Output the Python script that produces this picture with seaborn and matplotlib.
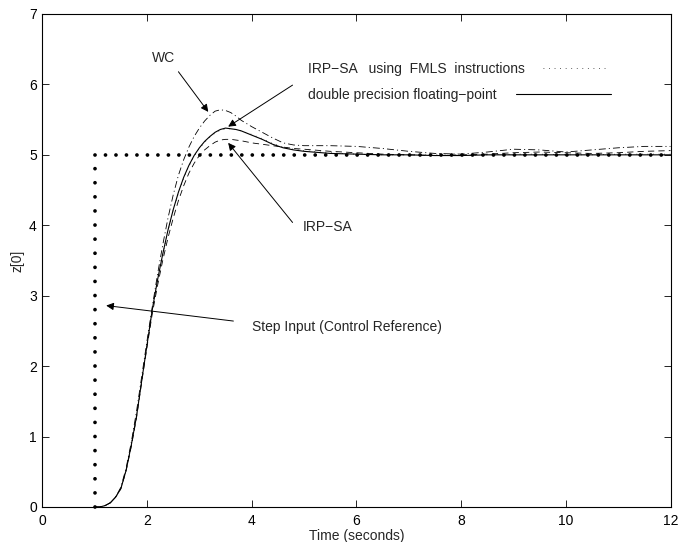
import numpy as np
import pandas as pd
import seaborn as sns
import matplotlib.pyplot as plt

# time samples (s)
t = [1.0, 1.1, 1.2, 1.3, 1.4, 1.5, 1.6, 1.7, 1.8, 1.9, 2.0, 2.1, 2.2, 2.3,
     2.4, 2.5, 2.6, 2.7, 2.8, 2.9, 3.0, 3.1, 3.2, 3.3, 3.4, 3.5, 3.6, 3.7, 3.8,
     4.0, 4.2, 4.4, 4.6, 4.8, 5.0, 5.5, 6.0, 6.5, 7.0, 7.5, 8.0, 8.5, 9.0, 9.5,
     10.0, 10.5, 11.0, 11.5, 12.0]

# double precision floating-point
z_double = [0.0, 0.0, 0.02, 0.06, 0.14, 0.26, 0.52, 0.88, 1.29, 1.8, 2.3, 2.8,
            3.22, 3.59, 3.93, 4.22, 4.47, 4.68, 4.85, 4.99, 5.1, 5.19, 5.26, 5.32,
            5.36, 5.38, 5.37, 5.36, 5.34, 5.28, 5.22, 5.15, 5.1, 5.07, 5.05, 5.02,
            5.01, 5.0, 5.0, 4.99, 4.99, 5.0, 5.0, 5.0, 5.0, 5.0, 5.0, 5.0, 5.0]

# IRP-SA using FMLS instructions
z_fmls = [0.0, 0.0, 0.02, 0.06, 0.14, 0.26, 0.52, 0.88, 1.29, 1.8, 2.3, 2.79,
          3.21, 3.58, 3.92, 4.21, 4.46, 4.67, 4.84, 4.98, 5.09, 5.18, 5.25, 5.31,
          5.35, 5.37, 5.37, 5.36, 5.34, 5.29, 5.23, 5.16, 5.11, 5.08, 5.06, 5.03,
          5.01, 5.0, 5.0, 5.0, 4.99, 5.0, 5.01, 5.01, 5.0, 5.0, 5.01, 5.01, 5.01]

# IRP-SA
z_irpsa = [0.0, 0.0, 0.02, 0.06, 0.14, 0.26, 0.51, 0.86, 1.27, 1.78, 2.27, 2.74,
           3.14, 3.5, 3.82, 4.1, 4.35, 4.56, 4.74, 4.88, 4.99, 5.07, 5.13, 5.18,
           5.21, 5.22, 5.22, 5.21, 5.2, 5.17, 5.15, 5.13, 5.11, 5.09, 5.08, 5.05,
           5.03, 5.01, 5.0, 4.99, 5.0, 5.01, 5.03, 5.04, 5.03, 5.02, 5.03, 5.05, 5.06]

# WC
z_wc = [0.0, 0.0, 0.02, 0.06, 0.14, 0.28, 0.55, 0.92, 1.36, 1.86, 2.36, 2.84,
        3.3, 3.72, 4.1, 4.43, 4.71, 4.93, 5.11, 5.26, 5.38, 5.48, 5.56, 5.62,
        5.64, 5.63, 5.6, 5.55, 5.49, 5.4, 5.32, 5.24, 5.17, 5.14, 5.13, 5.13,
        5.12, 5.09, 5.05, 5.02, 5.01, 5.04, 5.08, 5.07, 5.04, 5.07, 5.1, 5.12, 5.12]

# step input (control reference)
step_t = [1.0, 1.0, 12.0]
step_z = [0.0, 5.0, 5.0]

sns.set_style('ticks', {'xtick.direction': 'in', 'ytick.direction': 'in'})
plt.rcParams['font.family'] = ['Liberation Sans', 'DejaVu Sans']
plt.rcParams['lines.scale_dashes'] = False
plt.rcParams['font.size'] = 10

fig = plt.figure(figsize=(6.88, 5.42), dpi=100)
ax = fig.add_axes([0.0615, 0.0646, 0.9131, 0.9096])

# step drawn as big dots, vertical and horizontal parts have different spacing
sns.lineplot(x=step_t[:2], y=step_z[:2], ax=ax, color='k', lw=2.7,
             linestyle=(0, (0.01, 10.14)), dash_capstyle='round',
             sort=False, estimator=None, clip_on=False)
sns.lineplot(x=step_t[1:], y=step_z[1:], ax=ax, color='k', lw=2.7,
             linestyle=(0, (0.01, 7.54)), dash_capstyle='round',
             sort=False, estimator=None)

sns.lineplot(x=t, y=z_wc, ax=ax, color='k', lw=0.6,
             linestyle=(0, (5, 2.2, 0.8, 2.2)), sort=False, estimator=None)
sns.lineplot(x=t, y=z_irpsa, ax=ax, color='k', lw=0.6,
             linestyle=(0, (4.5, 3)), sort=False, estimator=None)
sns.lineplot(x=t, y=z_fmls, ax=ax, color='k', lw=0.5,
             linestyle=(0, (0.6, 3.4)), sort=False, estimator=None)
sns.lineplot(x=t, y=z_double, ax=ax, color='k', lw=0.8,
             sort=False, estimator=None)

lines = ax.get_lines()
h_fmls, h_double = lines[4], lines[5]

ax.set_xlim(0, 12)
ax.set_ylim(0, 7)
ax.set_xticks(range(0, 13, 2))
ax.set_yticks(range(0, 8))
for sp in ax.spines.values():
    sp.set_visible(True)
    sp.set_color('k')
    sp.set_linewidth(0.8)
ax.tick_params(direction='in', length=5, width=0.6, top=True, right=True,
               colors='k', labelsize=10)
ax.tick_params(axis='x', pad=5)
ax.tick_params(axis='y', pad=4)
ax.set_xlabel('Time (seconds)', fontsize=10, labelpad=1)
ax.set_ylabel('z[0]', fontsize=10, labelpad=3)

# legend rows: text first, sample line after
leg1 = ax.legend([h_fmls], ['IRP\u2212SA   using  FMLS  instructions'],
                 loc='center left', bbox_to_anchor=(5.08, 6.215),
                 bbox_transform=ax.transData, frameon=False, markerfirst=False,
                 handlelength=4.7, handletextpad=1.3, borderpad=0,
                 borderaxespad=0, fontsize=10)
ax.add_artist(leg1)
ax.legend([h_double], ['double precision floating\u2212point'],
          loc='center left', bbox_to_anchor=(5.08, 5.85),
          bbox_transform=ax.transData, frameon=False, markerfirst=False,
          handlelength=6.9, handletextpad=1.35, borderpad=0,
          borderaxespad=0, fontsize=10)

arrow = dict(arrowstyle='-|>', color='k', lw=0.7, mutation_scale=11,
             shrinkA=0, shrinkB=0)
ax.text(2.31, 6.38, 'WC', ha='center', va='center', fontsize=10)
ax.annotate('', xy=(3.17, 5.61), xytext=(2.6, 6.18), arrowprops=arrow)
ax.annotate('', xy=(3.55, 5.40), xytext=(4.78, 5.99), arrowprops=arrow)
ax.annotate('', xy=(3.55, 5.17), xytext=(4.78, 4.04), arrowprops=arrow)
ax.text(4.98, 3.98, 'IRP\u2212SA', ha='left', va='center', fontsize=10)
ax.annotate('', xy=(1.22, 2.86), xytext=(3.65, 2.64), arrowprops=arrow)
ax.text(4.0, 2.56, 'Step Input (Control Reference)', ha='left', va='center',
        fontsize=10)

fig.savefig('out.png', dpi=100)
